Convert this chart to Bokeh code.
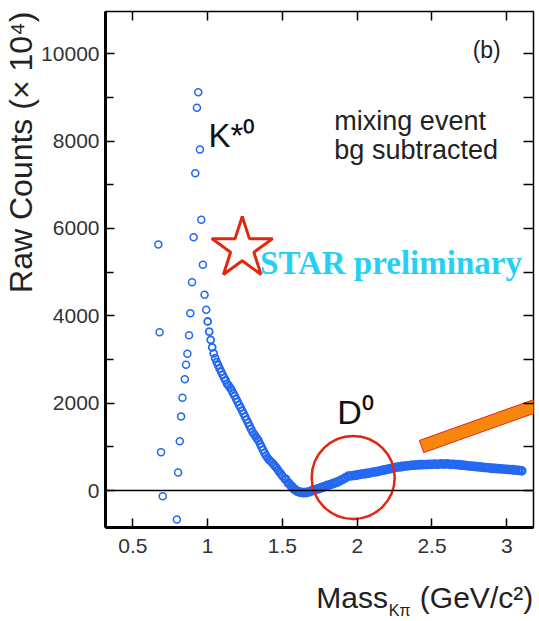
import numpy as np
from bokeh.plotting import figure
from bokeh.models import (Range1d, FixedTicker, LinearAxis, Span, Label, Title,
                          CustomLabelingPolicy)
from bokeh.embed import file_html
from bokeh.resources import INLINE

# ---- data ----
# sparse points below ~1 GeV/c^2 (K*0 region)
mass_a = [0.670, 0.678, 0.688, 0.699,
          0.794, 0.802, 0.813, 0.822, 0.831, 0.847, 0.855, 0.864, 0.875, 0.884,
          0.895, 0.906, 0.917, 0.928, 0.937,
          0.948, 0.957, 0.968, 0.979, 0.990]
counts_a = [5633, 3625, 877, -130,
            -664, 412, 1129, 1695, 2123, 2549, 2879, 3130, 3556, 4060,
            4770, 5800, 7266, 8764, 9121,
            7809, 6199, 5168, 4481, 4138]

# falling continuum 1.0 - 1.5 GeV/c^2
mass_b = [1.00, 1.01, 1.02, 1.03, 1.04, 1.05, 1.06, 1.07, 1.08, 1.09,
          1.10, 1.11, 1.12, 1.13, 1.14, 1.15, 1.16, 1.17, 1.18, 1.19,
          1.20, 1.21, 1.22, 1.23, 1.24, 1.25, 1.26, 1.27, 1.28, 1.29,
          1.30, 1.31, 1.32, 1.33, 1.34, 1.35, 1.36, 1.37, 1.38, 1.39,
          1.40, 1.41, 1.42, 1.43, 1.44, 1.45, 1.46, 1.47, 1.48, 1.49, 1.50]
counts_b = [3870, 3640, 3450, 3280, 3140, 3030, 2940, 2870, 2790, 2720,
            2650, 2580, 2520, 2440, 2400, 2350, 2300, 2230, 2170, 2100,
            2030, 1960, 1900, 1830, 1760, 1690, 1620, 1550, 1480, 1410,
            1340, 1290, 1240, 1190, 1140, 1070, 1000, 930, 860, 800,
            750, 700, 670, 640, 600, 560, 520, 470, 420, 380, 330]

# flat continuum 1.5 - 3.1 GeV/c^2 (D0 region)
mass_c = [1.52, 1.54, 1.56, 1.58, 1.60, 1.62, 1.64, 1.66, 1.68,
          1.70, 1.72, 1.74, 1.76, 1.78, 1.80, 1.82, 1.84, 1.86, 1.88,
          1.90, 1.92, 1.94, 1.96, 1.98, 2.00, 2.02, 2.04, 2.06, 2.08,
          2.10, 2.12, 2.14, 2.16, 2.18, 2.20, 2.22, 2.24, 2.26, 2.28,
          2.30, 2.32, 2.34, 2.36, 2.38, 2.40, 2.42, 2.44, 2.46, 2.48,
          2.50, 2.52, 2.54, 2.56, 2.58, 2.60, 2.62, 2.64, 2.66, 2.68,
          2.70, 2.72, 2.74, 2.76, 2.78, 2.80, 2.82, 2.84, 2.86, 2.88,
          2.90, 2.92, 2.94, 2.96, 2.98, 3.00, 3.02, 3.04, 3.06, 3.08, 3.10]
counts_c = [260, 170, 100, 30, -20, -40, -50, -45, -30,
            0, 20, 40, 65, 90, 115, 135, 160, 185, 215,
            250, 290, 330, 335, 345, 355, 370, 380, 390, 400,
            415, 425, 440, 455, 470, 485, 500, 515, 530, 540,
            550, 560, 565, 575, 580, 585, 590, 592, 595, 600,
            600, 605, 600, 610, 605, 610, 600, 600, 595, 590,
            580, 575, 565, 560, 555, 545, 540, 530, 525, 520,
            510, 505, 500, 495, 490, 485, 480, 475, 465, 460, 450]

x_ticks = [0.5, 1.0, 1.5, 2.0, 2.5, 3.0]
x_tick_labels = {0.5: "0.5", 1.0: "1", 1.5: "1.5", 2.0: "2", 2.5: "2.5", 3.0: "3"}
y_ticks = [0, 2000, 4000, 6000, 8000, 10000]
y_minor = [1000, 3000, 5000, 7000, 9000]

y_title = "Raw Counts (\u00d7 10\u2074)"
x_title_main = {1.966: "Mass", 2.798: "(GeV/c\u00b2)"}
x_title_sub = {2.284: "K\u03c0"}

# annotations
star_pos = (1.231, 5541)
circle_pos = (1.973, 298)
bar_x = [2.416, 2.445, 3.353, 3.324]
bar_y = [1147, 868, 1976, 2256]

BLUE = "#2468f2"
RED = "#e3260f"
FONT = "Liberation Sans"
DARK = "#222222"

p = figure(width=539, height=621,
           x_range=Range1d(0.3164, 3.179), y_range=Range1d(-847, 10969),
           output_backend="svg", toolbar_location=None,
           min_border_left=104, min_border_right=3, min_border_top=11,
           min_border_bottom=94)
p.xgrid.visible = False
p.ygrid.visible = False
p.outline_line_color = "black"
p.outline_line_width = 1.5
p.background_fill_color = "white"
p.border_fill_color = "white"

hide_all = CustomLabelingPolicy(code="""
for (const i of indices) { indices.unset(i) }
return indices
""")

# bottom axis
xa = p.xaxis[0]
xa.ticker = FixedTicker(ticks=x_ticks, minor_ticks=[])
xa.major_label_overrides = x_tick_labels
xa.axis_line_width = 3
xa.major_tick_in = 9
xa.major_tick_out = 0
xa.major_tick_line_width = 1.5
xa.minor_tick_line_color = None
xa.major_label_standoff = 11
xa.major_label_text_font = FONT
xa.major_label_text_font_size = "21px"
xa.major_label_text_color = "#333333"

# left axis
ya = p.yaxis[0]
ya.ticker = FixedTicker(ticks=y_ticks, minor_ticks=y_minor)
ya.axis_line_width = 3
ya.major_tick_in = 9
ya.major_tick_out = 0
ya.minor_tick_in = 8
ya.minor_tick_out = 0
ya.major_tick_line_width = 1.5
ya.minor_tick_line_width = 1.5
ya.major_label_standoff = 6
ya.major_label_text_font = FONT
ya.major_label_text_font_size = "21px"
ya.major_label_text_color = "#333333"

# mirrored top and right ticks (no labels)
top = LinearAxis(ticker=FixedTicker(ticks=x_ticks, minor_ticks=[]),
                 major_tick_in=9, major_tick_out=0, major_tick_line_width=1.5,
                 minor_tick_line_color=None, major_label_text_font_size="1px",
                 major_label_policy=hide_all,
                 major_label_standoff=0, axis_line_color=None)
p.add_layout(top, "above")
right = LinearAxis(ticker=FixedTicker(ticks=y_ticks, minor_ticks=y_minor),
                   major_tick_in=10, major_tick_out=0, minor_tick_in=10,
                   minor_tick_out=0, major_tick_line_width=1.5,
                   minor_tick_line_width=1.5, major_label_text_font_size="1px",
                   major_label_policy=hide_all,
                   major_label_standoff=0, axis_line_color=None)
p.add_layout(right, "right")

# axis titles (outside the frame)
p.add_layout(Title(text=y_title, align="right", text_font=FONT,
                   text_font_size="32px", text_font_style="normal",
                   text_color=DARK, standoff=0, offset=0), "left")
xt_main = LinearAxis(ticker=FixedTicker(ticks=list(x_title_main.keys()), minor_ticks=[]),
                     major_label_overrides=x_title_main, axis_line_color=None,
                     major_tick_line_color=None, minor_tick_line_color=None,
                     major_label_standoff=19, major_label_text_font=FONT,
                     major_label_text_font_size="30px", major_label_text_color=DARK)
p.add_layout(xt_main, "below")
xt_sub = LinearAxis(ticker=FixedTicker(ticks=list(x_title_sub.keys()), minor_ticks=[]),
                    major_label_overrides=x_title_sub, axis_line_color=None,
                    major_tick_line_color=None, minor_tick_line_color=None,
                    major_label_standoff=-21, major_label_text_font=FONT,
                    major_label_text_font_size="16px", major_label_text_color=DARK)
p.add_layout(xt_sub, "below")

# zero line
p.add_layout(Span(location=0, dimension="width", line_color="black", line_width=1.5))

# data
p.scatter(mass_a, counts_a, marker="circle", size=7, fill_color=None,
          line_color=BLUE, line_width=1.5)
p.scatter(mass_b, counts_b, marker="circle", size=7, fill_color=None,
          line_color=BLUE, line_width=1.8)
p.scatter(mass_c, counts_c, marker="circle", size=7, fill_color=None,
          line_color=BLUE, line_width=2.8)

# annotations
p.scatter([circle_pos[0]], [circle_pos[1]], marker="circle", size=83,
          fill_color=None, line_color=RED, line_width=2.5)
p.patch(bar_x, bar_y, fill_color="#f7860f", line_color=RED, line_width=1)
p.scatter([star_pos[0]], [star_pos[1]], marker="star", size=64,
          fill_color="white", line_color=RED, line_width=3)

def lab(x, y, text, size, align="left", baseline="alphabetic", font=FONT,
        color="#111111", style="normal"):
    p.add_layout(Label(x=x, y=y, text=text, text_font_size=size,
                       text_align=align, text_baseline=baseline,
                       text_font=font, text_color=color,
                       text_font_style=style))

lab(2.960, 10080, "(b)", "23px", align="right", color=DARK)
lab(1.847, 8470, "mixing event", "27px", color=DARK)
lab(1.847, 7806, "bg subtracted", "27px", color=DARK)
lab(1.006, 8130, "K*\u2070", "33px")
lab(1.867, 1800, "D\u2070", "34px")
lab(1.350, 5220, "STAR preliminary", "33px", font="Liberation Serif",
    color="#27cff5", style="bold")

open("out.html", "w").write(file_html(p, INLINE))
